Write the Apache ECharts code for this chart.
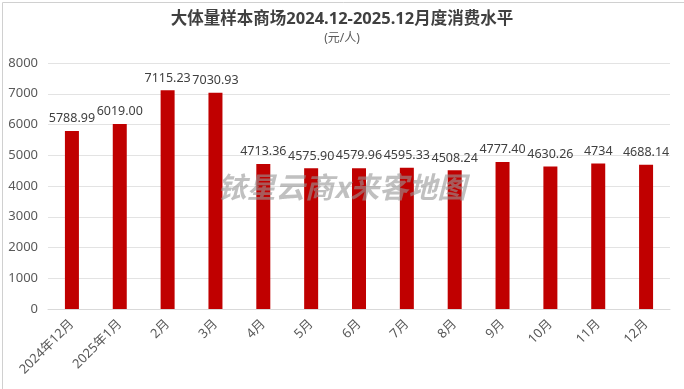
<!DOCTYPE html>
<html><head><meta charset="utf-8">
<script src="https://cdn.jsdelivr.net/npm/echarts@6/dist/echarts.min.js"></script>
<style>html,body{margin:0;padding:0;background:#fff}#c{width:684px;height:389px}</style>
</head><body><div id="c"></div>
<script>
const categories = ['2024年12月','2025年1月','2月','3月','4月','5月','6月','7月','8月','9月','10月','11月','12月'];
const values = [5788.99,6019.00,7115.23,7030.93,4713.36,4575.90,4579.96,4595.33,4508.24,4777.40,4630.26,4734,4688.14];
const valueLabels = ['5788.99','6019.00','7115.23','7030.93','4713.36','4575.90','4579.96','4595.33','4508.24','4777.40','4630.26','4734','4688.14'];
const yTicks = [0,1000,2000,3000,4000,5000,6000,7000,8000];

const chart = echarts.init(document.getElementById('c'));
const font = '"Noto Sans","Noto Sans CJK SC",sans-serif';
chart.setOption({
  animation:false,
  title:{text:'大体量样本商场2024.12-2025.12月度消费水平',subtext:'(元/人)',left:'center',top:6,itemGap:5,
    textStyle:{fontSize:16.5,fontWeight:'bold',color:'#404040',fontFamily:font},
    subtextStyle:{fontSize:12,color:'#595959',fontFamily:font}},
  grid:{left:48,right:14,top:63,bottom:80,containLabel:false},
  xAxis:{type:'category',data:categories,
    axisLine:{lineStyle:{color:'#d9d9d9'}},axisTick:{show:false},
    axisLabel:{rotate:45,fontSize:13,color:'#595959',fontFamily:font,interval:0,margin:13}},
  yAxis:{type:'value',min:yTicks[0],max:yTicks[yTicks.length-1],interval:1000,
    axisLabel:{fontSize:13,color:'#595959',fontFamily:font,margin:10,formatter:v=>String(v)},
    splitLine:{lineStyle:{color:'#e3e3e3'}},axisLine:{show:false},axisTick:{show:false}},
  series:[{type:'bar',data:values,barWidth:14,itemStyle:{color:'#C00000'},
    label:{show:true,position:'top',distance:6,fontSize:12.5,color:'#404040',fontFamily:font,
      formatter:p=>valueLabels[p.dataIndex]}}],
  graphic:[
    {type:'rect',left:0,top:0,shape:{width:683,height:388},style:{fill:'none',stroke:'#d0d0d0',lineWidth:1},silent:true},
    {type:'text',left:'center',top:172,z:100,style:{text:'铱星云商x来客地图',fontSize:29,fontStyle:'italic',fontWeight:'bold',fill:'rgba(150,150,150,0.6)',fontFamily:'"Noto Sans CJK SC",sans-serif'}}
  ]
});
</script></body></html>
